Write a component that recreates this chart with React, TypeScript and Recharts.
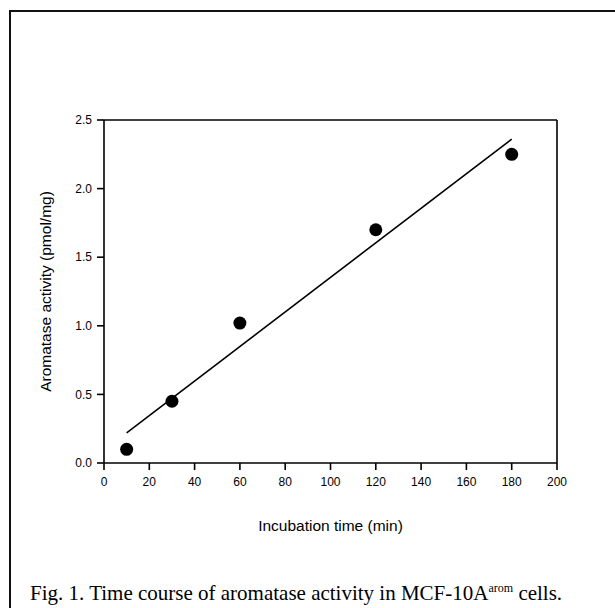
import React from "react"
import {
  ComposedChart,
  Scatter,
  Line,
  XAxis,
  YAxis,
  Label,
} from "recharts"

// measured points (incubation time in min, activity in pmol/mg)
const timePoints = [10, 30, 60, 120, 180]
const activityValues = [0.1, 0.45, 1.02, 1.7, 2.25]

// fitted line, read at its two ends
const fitTimes = [10, 180]
const fitValues = [0.22, 2.36]

const xTicks = [0, 20, 40, 60, 80, 100, 120, 140, 160, 180, 200]
const yTicks = [0, 0.5, 1.0, 1.5, 2.0, 2.5]
const yMinorTicks = [0.25, 0.75, 1.25, 1.75, 2.25]

const points = timePoints.map((t, i) => ({ x: t, y: activityValues[i] }))
const fitLine = fitTimes.map((t, i) => ({ x: t, y: fitValues[i] }))

const sans = "'Liberation Sans', Arial, sans-serif"
const tickStyle = { fontFamily: sans, fontSize: 12, fill: "#000" }
const axisStroke = { stroke: "#000", strokeWidth: 1.6 }

const Dot = (props: any) => {
  const { cx, cy } = props
  if (cx == null || cy == null) return null
  return <circle cx={cx} cy={cy} r={6.5} fill="#000" />
}

const YTitle = (props: any) => {
  const { viewBox } = props
  const cy = viewBox.y + viewBox.height / 2
  const x = 45
  return (
    <text
      x={x}
      y={cy}
      transform={`rotate(-90, ${x}, ${cy})`}
      textAnchor="middle"
      dominantBaseline="central"
      style={{ fontFamily: sans, fontSize: 15.5, fill: "#000" }}
    >
      Aromatase activity (pmol/mg)
    </text>
  )
}

const XTitle = (props: any) => {
  const { viewBox } = props
  const cx = viewBox.x + viewBox.width / 2
  return (
    <text
      x={cx}
      y={525}
      textAnchor="middle"
      dominantBaseline="central"
      style={{ fontFamily: sans, fontSize: 15.5, fill: "#000" }}
    >
      Incubation time (min)
    </text>
  )
}

export default function App() {
  return (
    <div
      style={{
        position: "fixed",
        left: 0,
        top: 0,
        width: 615,
        height: 608,
        background: "#fff",
        overflow: "hidden",
      }}
    >
      <div
        style={{
          position: "absolute",
          left: 9,
          top: 10,
          width: 700,
          height: 700,
          borderLeft: "2.5px solid #111",
          borderTop: "2px solid #111",
        }}
      />
      <ComposedChart
        width={615}
        height={608}
        margin={{ top: 120, right: 58, bottom: 115, left: 44 }}
        style={{ position: "absolute", left: 0, top: 0 }}
      >
        <XAxis
          dataKey="x"
          type="number"
          domain={[0, 200]}
          ticks={xTicks}
          interval={0}
          height={30}
          tickSize={7}
          tickMargin={7}
          tick={tickStyle}
          axisLine={axisStroke}
          tickLine={axisStroke}
          allowDataOverflow
        >
          <Label content={<XTitle />} />
        </XAxis>
        <XAxis
          xAxisId="top"
          orientation="top"
          mirror
          type="number"
          domain={[0, 200]}
          tick={false}
          tickLine={false}
          axisLine={axisStroke}
        />
        <YAxis
          type="number"
          domain={[0, 2.5]}
          ticks={yTicks}
          interval={0}
          width={60}
          tickSize={7}
          tickMargin={5}
          tick={tickStyle}
          tickFormatter={(v: number) => v.toFixed(1)}
          axisLine={axisStroke}
          tickLine={axisStroke}
          allowDataOverflow
        >
          <Label content={<YTitle />} />
        </YAxis>
        <YAxis
          yAxisId="leftMinor"
          orientation="left"
          mirror
          type="number"
          domain={[0, 2.5]}
          ticks={yMinorTicks}
          interval={0}
          tickSize={4}
          tickFormatter={() => ""}
          axisLine={false}
          tickLine={{ stroke: "#000", strokeWidth: 1 }}
        />
        <YAxis
          yAxisId="right"
          orientation="right"
          mirror
          type="number"
          domain={[0, 2.5]}
          ticks={yMinorTicks}
          interval={0}
          tickSize={4}
          tickFormatter={() => ""}
          axisLine={axisStroke}
          tickLine={{ stroke: "#000", strokeWidth: 1 }}
        />
        <Line
          data={fitLine}
          dataKey="y"
          type="linear"
          dot={false}
          activeDot={false}
          stroke="#000"
          strokeWidth={1.6}
          isAnimationActive={false}
        />
        <Scatter
          data={points}
          dataKey="y"
          shape={<Dot />}
          isAnimationActive={false}
        />
      </ComposedChart>
      <div
        style={{
          position: "absolute",
          left: 30,
          top: 576,
          fontFamily: "'Liberation Serif', 'Times New Roman', serif",
          fontSize: 21,
          lineHeight: "24px",
          color: "#000",
          whiteSpace: "nowrap",
        }}
      >
        Fig. 1. Time course of aromatase activity in MCF-10A
        <sup style={{ fontSize: 12, verticalAlign: "8px" }}>arom</sup> cells.
      </div>
    </div>
  )
}
